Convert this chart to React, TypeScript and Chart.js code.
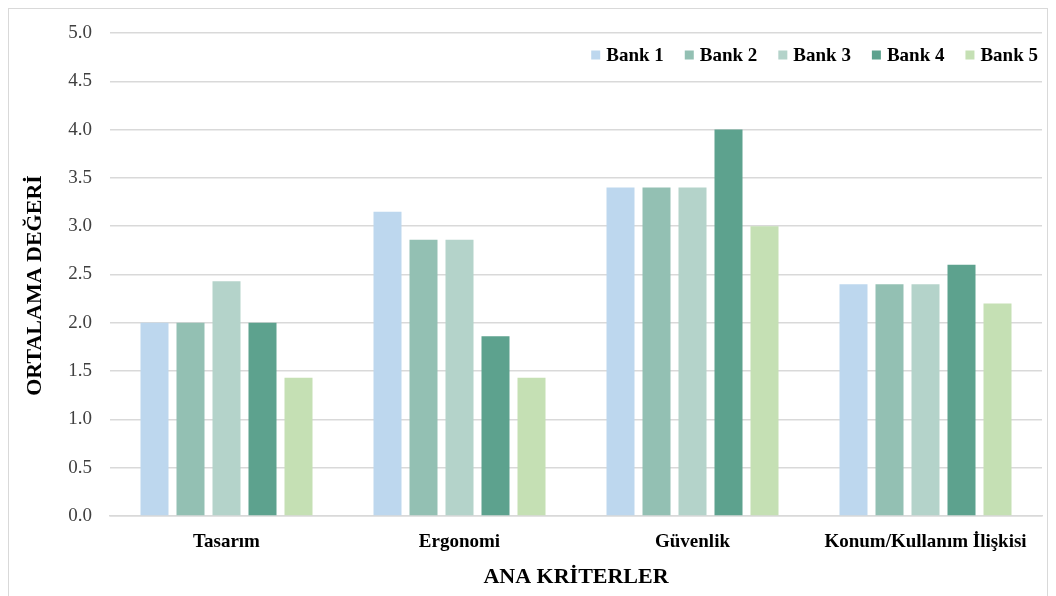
import React, { useEffect, useRef } from "react";
import { Chart, registerables } from "chart.js";

Chart.register(...registerables);

const categories = ["Tasarım", "Ergonomi", "Güvenlik", "Konum/Kullanım İlişkisi"];
const seriesNames = ["Bank 1", "Bank 2", "Bank 3", "Bank 4", "Bank 5"];
const bank1 = [2.0, 3.15, 3.4, 2.4];
const bank2 = [2.0, 2.86, 3.4, 2.4];
const bank3 = [2.43, 2.86, 3.4, 2.4];
const bank4 = [2.0, 1.86, 4.0, 2.6];
const bank5 = [1.43, 1.43, 3.0, 2.2];
const seriesColors = ["#BDD7EE", "#93C0B3", "#B4D3CA", "#5DA28E", "#C5E0B4"];
const yTitle = "ORTALAMA DEĞERİ\u00A0\u00A0\u00A0\u00A0";
const xTitle = "ANA KRİTERLER";

const FONT = "'Liberation Serif', 'Times New Roman', serif";

const legendPlugin = {
  id: "customLegend",
  afterDraw(chart: any) {
    const ctx = chart.ctx;
    const area = chart.chartArea;
    const box = 9;
    const gapBoxText = 6;
    const gapItems = 21;
    ctx.save();
    ctx.font = `bold 19px ${FONT}`;
    ctx.textBaseline = "middle";
    ctx.textAlign = "left";
    const items = chart.data.datasets.map((d: any) => ({
      label: d.label,
      color: d.backgroundColor,
      w: ctx.measureText(d.label).width,
    }));
    const total =
      items.reduce((s: number, it: any) => s + box + gapBoxText + it.w, 0) +
      gapItems * (items.length - 1);
    let x = area.right - 4 - total;
    const cy = area.top + 22;
    items.forEach((it: any) => {
      ctx.fillStyle = it.color;
      ctx.fillRect(x, cy - box / 2, box, box);
      x += box + gapBoxText;
      ctx.fillStyle = "#000000";
      ctx.fillText(it.label, x, cy + 1);
      x += it.w + gapItems;
    });
    ctx.restore();
  },
};

export default function App() {
  const ref = useRef<HTMLCanvasElement | null>(null);

  useEffect(() => {
    if (!ref.current) return;
    const values = [bank1, bank2, bank3, bank4, bank5];
    const chart = new Chart(ref.current, {
      type: "bar",
      data: {
        labels: categories,
        datasets: seriesNames.map((name, i) => ({
          label: name,
          data: values[i],
          backgroundColor: seriesColors[i],
          borderWidth: 0,
          categoryPercentage: 0.7725,
          barPercentage: 0.778,
        })),
      },
      options: {
        animation: false,
        responsive: false,
        maintainAspectRatio: false,
        layout: { padding: { left: 9, top: 24, right: 5, bottom: 0 } },
        plugins: {
          legend: { display: false },
          tooltip: { enabled: false },
        },
        scales: {
          x: {
            grid: { display: false, drawTicks: false },
            border: { display: true, color: "#D9D9D9", width: 1.5 },
            ticks: {
              color: "#000000",
              font: { family: FONT, size: 19, weight: "bold" },
              padding: 15,
              maxRotation: 0,
              autoSkip: false,
            },
            title: {
              display: true,
              text: xTitle,
              color: "#000000",
              font: { family: FONT, size: 22, weight: "bold" },
              padding: { top: 4, bottom: 6 },
            },
            afterFit: (scale: any) => {
              scale.height = 81;
            },
          },
          y: {
            min: 0,
            max: 5,
            grid: { color: "#D9D9D9", lineWidth: 1.5, drawTicks: false },
            border: { display: false },
            ticks: {
              stepSize: 0.5,
              color: "#404040",
              font: { family: FONT, size: 19 },
              padding: 18,
              callback: (v: any) => Number(v).toFixed(1),
            },
            title: {
              display: true,
              text: yTitle,
              color: "#000000",
              font: { family: FONT, size: 22, weight: "bold" },
              padding: { top: 4, bottom: 4 },
            },
            afterFit: (scale: any) => {
              scale.width = 92;
              scale.paddingTop = 0;
              scale.paddingBottom = 0;
            },
          },
        },
      },
      plugins: [legendPlugin],
    });
    return () => chart.destroy();
  }, []);

  return (
    <div
      style={{
        width: 1038,
        height: 598,
        border: "1px solid #D9D9D9",
        background: "#ffffff",
      }}
    >
      <canvas ref={ref} width={1038} height={588} style={{ display: "block" }} />
    </div>
  );
}
